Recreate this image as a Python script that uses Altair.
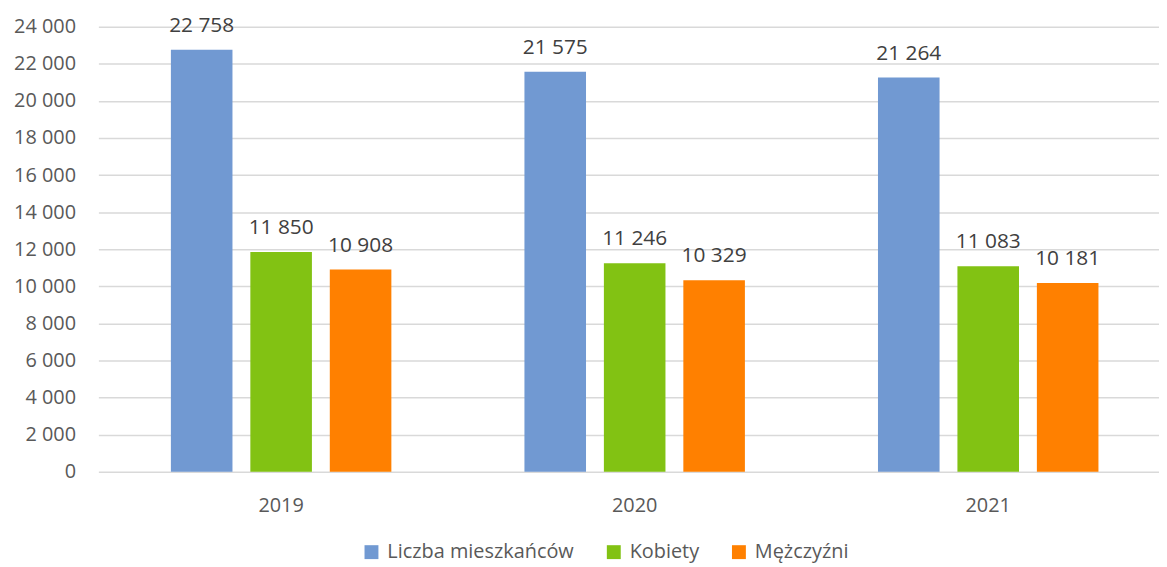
import altair as alt
import pandas as pd

years = ["2019", "2020", "2021"]
series = ["Liczba mieszkańców", "Kobiety", "Mężczyźni"]
total = [22758, 21575, 21264]
women = [11850, 11246, 11083]
men = [10908, 10329, 10181]
colors = ["#7199d2", "#82c213", "#ff8000"]
y_ticks = list(range(0, 24001, 2000))

rows = []
for i, y in enumerate(years):
    for s, vals in zip(series, [total, women, men]):
        rows.append({"year": y, "series": s, "value": vals[i]})
df = pd.DataFrame(rows)

FONT = "Open Sans"

base = alt.Chart(df).transform_calculate(
    label="replace(format(datum.value, ','), ',', ' ')"
).encode(
    x=alt.X(
        "year:N",
        sort=years,
        scale=alt.Scale(paddingInner=0, paddingOuter=0),
        axis=alt.Axis(
            title=None, labelAngle=0, ticks=False, domain=False,
            labelFont=FONT, labelFontSize=20, labelColor="#595959",
            labelPadding=24, grid=False, labelOffset=6,
        ),
    ),
    xOffset=alt.XOffset(
        "series:N", sort=series,
        scale=alt.Scale(paddingInner=0.225, paddingOuter=0.8375, align=0.545),
    ),
    y=alt.Y(
        "value:Q",
        scale=alt.Scale(domain=[0, 24000], nice=False),
        axis=alt.Axis(
            title=None, values=y_ticks, domain=False, ticks=False,
            labelExpr="replace(format(datum.value, ','), ',', ' ')",
            labelFont=FONT, labelFontSize=20, labelColor="#595959",
            labelPadding=23, grid=True, gridColor="#d9d9d9", gridWidth=1.5,
        ),
    ),
)

bars = base.mark_bar().encode(
    color=alt.Color(
        "series:N", sort=series,
        scale=alt.Scale(domain=series, range=colors),
        legend=alt.Legend(
            title=None, orient="none", legendX=265, legendY=519,
            direction="horizontal", symbolType="square", symbolSize=196,
            symbolStrokeWidth=0, labelFont=FONT, labelFontSize=20,
            labelColor="#595959", columnPadding=30, labelOffset=6, padding=0,
            labelLimit=400,
        ),
    )
)

labels = base.mark_text(
    baseline="alphabetic", dy=-18, font=FONT, fontSize=21, color="#404040"
).encode(text="label:N")

chart = (
    alt.layer(bars, labels)
    .properties(
        width=1068, height=448,
        autosize=alt.AutoSizeParams(type="none"),
        padding={"left": 91, "top": 17, "right": 0, "bottom": 90},
    )
    .configure_view(stroke=None)
)

chart.save("out.html", embed_options={"renderer": "svg", "actions": False})
